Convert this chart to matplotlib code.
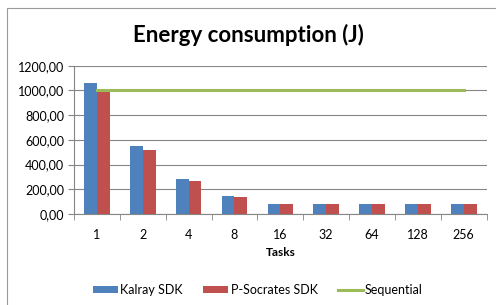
import matplotlib
matplotlib.use('Agg')
import matplotlib.pyplot as plt
import numpy as np

# data
tasks = ['1', '2', '4', '8', '16', '32', '64', '128', '256']
kalray = [1057, 553, 281, 146, 78, 78, 78, 78, 78]
psocrates = [985, 518, 265, 138, 78, 78, 78, 78, 78]
sequential = [1000] * len(tasks)

blue = '#4F81BD'
red = '#C0504D'
green = '#9BBB59'
grid_col = '#868686'

plt.rcParams['font.family'] = ['Lato', 'DejaVu Sans']

fig = plt.figure(figsize=(4.96, 3.05), dpi=100)
fig.patches.append(plt.Rectangle((7 / 496, -0.1), 1.2, (305 - 8) / 305 + 0.1,
                                 transform=fig.transFigure, fill=False,
                                 edgecolor='#9a9a9a', linewidth=0.8))

ax = fig.add_axes([74 / 496, 1 - 214 / 305, (486.7 - 74) / 496, (214 - 65.7) / 305])
x = np.arange(len(tasks))
w = 0.28
b1 = ax.bar(x - w / 2, kalray, w, color=blue, label='Kalray SDK', zorder=3)
b2 = ax.bar(x + w / 2, psocrates, w, color=red, label='P-Socrates SDK', zorder=3)
l1, = ax.plot(x, sequential, color=green, linewidth=2.2, label='Sequential', zorder=4)

ax.set_xlim(-0.5, len(tasks) - 0.5)
ax.set_ylim(0, 1200)
ax.set_yticks(np.arange(0, 1201, 200))
ax.set_yticklabels(['%d,00' % v for v in range(0, 1201, 200)], fontsize=9)
ax.yaxis.grid(True, color=grid_col, linewidth=0.8, zorder=0)
ax.set_xticks(x)
ax.set_xticklabels(tasks, fontsize=9)
ax.set_xticks(np.arange(-0.5, len(tasks), 1), minor=True)
ax.tick_params(axis='x', which='major', length=0, pad=11)
ax.tick_params(axis='x', which='minor', length=4, color=grid_col)
ax.tick_params(axis='y', length=4, color=grid_col, pad=3)
for s in ['top', 'right']:
    ax.spines[s].set_visible(False)
ax.spines['left'].set_color(grid_col)
ax.spines['bottom'].set_color(grid_col)
ax.set_xlabel('Tasks', fontsize=8.5, fontweight='bold', labelpad=4)

fig.text(0.5, 1 - 35 / 305, 'Energy consumption (J)', ha='center', va='center',
         fontsize=16, fontweight='bold')
fig.legend([b1, b2, l1], ['Kalray SDK', 'P-Socrates SDK', 'Sequential'],
           loc='center', bbox_to_anchor=(0.52, 1 - 290 / 305), ncol=3, frameon=False,
           fontsize=9, handlelength=2.0, handleheight=0.55, columnspacing=1.6,
           handletextpad=0.2)

plt.savefig('out.png', dpi=100)
